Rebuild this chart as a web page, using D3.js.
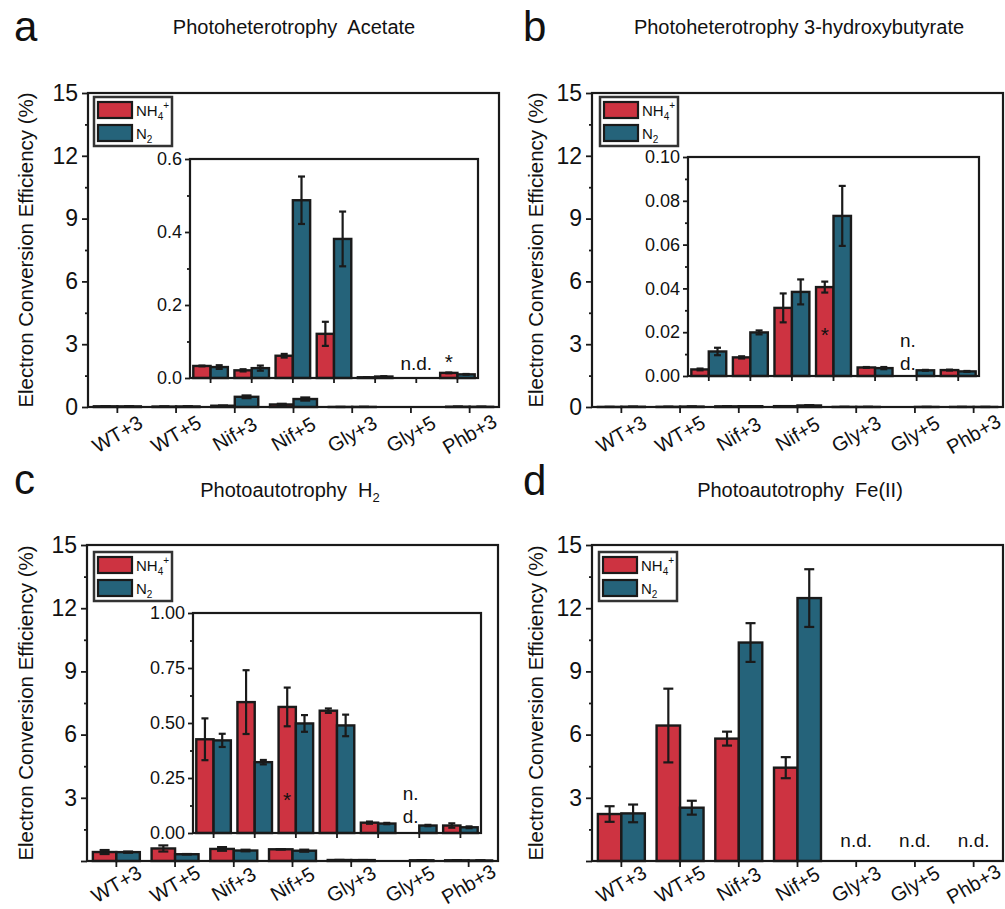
<!DOCTYPE html>
<html>
<head>
<meta charset="utf-8">
<script src="https://cdn.jsdelivr.net/npm/d3@7"></script>
<style>
  body { margin: 0; background: #fff; }
  text { font-family: "Liberation Sans", Arial, sans-serif; fill: #111; }
</style>
</head>
<body>
<div id="fig"></div>
<script>
// categories and tick labels
var categories = ['WT+3', 'WT+5', 'Nif+3', 'Nif+5', 'Gly+3', 'Gly+5', 'Phb+3'];
var mainTicks = [0, 3, 6, 9, 12, 15];
var mainMinor = [1.5, 4.5, 7.5, 10.5, 13.5];
var insetTicksA = [0, 0.2, 0.4, 0.6];
var insetMinorA = [0.1, 0.3, 0.5];
var insetTicksB = [0, 0.02, 0.04, 0.06, 0.08, 0.10];
var insetMinorB = [0.01, 0.03, 0.05, 0.07, 0.09];
var insetTicksC = [0, 0.25, 0.5, 0.75, 1.0];
var insetMinorC = [0.125, 0.375, 0.625, 0.875];

// a: photoheterotrophy, acetate (null = n.d.)
var acetateNH4    = [0.033, 0.021, 0.061, 0.121, 0.002, null, 0.014];
var acetateNH4Err = [0.001, 0.003, 0.005, 0.033, 0.0005, null, 0.001];
var acetateN2     = [0.030, 0.027, 0.487, 0.381, 0.004, null, 0.010];
var acetateN2Err  = [0.005, 0.007, 0.065, 0.075, 0.001, null, 0.001];

// b: photoheterotrophy, 3-hydroxybutyrate
var hbNH4    = [0.0030, 0.0085, 0.0311, 0.0406, 0.0039, null, 0.0027];
var hbNH4Err = [0.0004, 0.0005, 0.0066, 0.0025, 0.0002, null, 0.0002];
var hbN2     = [0.0112, 0.0199, 0.0384, 0.0731, 0.0036, 0.0026, 0.0021];
var hbN2Err  = [0.0017, 0.0009, 0.0057, 0.0137, 0.0005, 0.0002, 0.0002];

// c: photoautotrophy, H2
var h2NH4    = [0.426, 0.595, 0.573, 0.556, 0.047, null, 0.034];
var h2NH4Err = [0.095, 0.145, 0.088, 0.010, 0.005, null, 0.010];
var h2N2     = [0.421, 0.322, 0.498, 0.489, 0.043, 0.034, 0.026];
var h2N2Err  = [0.030, 0.010, 0.038, 0.049, 0.003, 0.003, 0.004];

// d: photoautotrophy, Fe(II)
var feNH4    = [2.23, 6.43, 5.81, 4.43, null, null, null];
var feNH4Err = [0.37, 1.75, 0.33, 0.50, null, null, null];
var feN2     = [2.26, 2.53, 10.37, 12.48, null, null, null];
var feN2Err  = [0.42, 0.33, 0.92, 1.37, null, null, null];

var RED = '#cd3341', TEAL = '#25637a', INK = '#1a1a1a';

var svg = d3.select('#fig').append('svg')
            .attr('width', 1005)
            .attr('height', 909);

svg.append('rect').attr('width', 1005).attr('height', 909).attr('fill', '#fff');

// draws one grouped bar set with error bars
function drawBars(g, x, y, nh4, nh4Err, n2, n2Err, frac, capW) {
  var bw = x.step() * frac;
  var rows = [];
  categories.forEach(function(c, i) {
    rows.push({cat: c, v: nh4[i], e: nh4Err[i], col: RED, off: -bw});
    rows.push({cat: c, v: n2[i], e: n2Err[i], col: TEAL, off: 0});
  });
  rows = rows.filter(function(d) { return d.v != null; });
  var cx = function(d) { return x(d.cat) + x.bandwidth() / 2 + d.off; };

  g.selectAll(null).data(rows).enter().append('rect')
    .attr('x', cx)
    .attr('y', function(d) { return y(d.v); })
    .attr('width', bw)
    .attr('height', function(d) { return y(0) - y(d.v); })
    .attr('fill', function(d) { return d.col; })
    .attr('stroke', INK)
    .attr('stroke-width', 2.4);

  var eb = rows.filter(function(d) { return d.e; });
  var mid = function(d) { return cx(d) + bw / 2; };
  g.selectAll(null).data(eb).enter().append('line')
    .attr('x1', mid).attr('x2', mid)
    .attr('y1', function(d) { return y(Math.max(0, d.v - d.e)); })
    .attr('y2', function(d) { return y(d.v + d.e); })
    .attr('stroke', INK).attr('stroke-width', 2.2);
  [-1, 1].forEach(function(s) {
    g.selectAll(null).data(eb).enter().append('line')
      .attr('x1', function(d) { return mid(d) - capW / 2; })
      .attr('x2', function(d) { return mid(d) + capW / 2; })
      .attr('y1', function(d) { return y(Math.max(0, d.v + s * d.e)); })
      .attr('y2', function(d) { return y(Math.max(0, d.v + s * d.e)); })
      .attr('stroke', INK).attr('stroke-width', 2.2);
  });
}

function styleAxis(sel, fontSize) {
  sel.select('.domain').remove();
  sel.selectAll('line').attr('stroke', INK).attr('stroke-width', 1.8);
  sel.selectAll('text').attr('font-size', fontSize).attr('fill', '#111')
     .attr('font-family', '"Liberation Sans", Arial, sans-serif');
}

function drawPanel(p) {
  var x = d3.scaleBand().domain(categories).range([p.x0, p.x1]);
  var y = d3.scaleLinear().domain([0, 15]).range([p.y1, p.y0]);
  var g = svg.append('g');

  // panel letter and title
  svg.append('text').attr('x', p.letterX).attr('y', p.letterY)
     .attr('font-size', 42).text(p.letter);
  var t = svg.append('text').attr('x', p.titleX).attr('y', p.titleY)
     .attr('text-anchor', 'middle').attr('font-size', 20)
     .style('white-space', 'pre');
  t.append('tspan').text(p.title);
  if (p.titleSub) t.append('tspan').attr('font-size', 13).attr('dy', 5).text(p.titleSub);

  // y axis label
  svg.append('text')
     .attr('transform', 'translate(' + p.ylabX + ',' + ((p.y0 + p.y1) / 2) + ') rotate(-90)')
     .attr('text-anchor', 'middle').attr('dominant-baseline', 'central')
     .attr('font-size', 20.5)
     .text('Electron Conversion Efficiency (%)');

  drawBars(g, x, y, p.nh4, p.nh4Err, p.n2, p.n2Err, 0.4, 10);

  // axes
  var ya = svg.append('g').attr('transform', 'translate(' + p.x0 + ',0)')
     .call(d3.axisLeft(y).tickValues(mainTicks).tickSize(6).tickPadding(4)
       .tickFormat(function(d) { return (d === 0 && !p.showZero) ? '' : d; }));
  styleAxis(ya, 23);
  var ym = svg.append('g').attr('transform', 'translate(' + p.x0 + ',0)')
     .call(d3.axisLeft(y).tickValues(mainMinor).tickSize(3).tickFormat(''));
  styleAxis(ym, 0);
  var xa = svg.append('g').attr('transform', 'translate(0,' + p.y1 + ')')
     .call(d3.axisBottom(x).tickSize(6).tickFormat(''));
  styleAxis(xa, 0);

  svg.append('g').selectAll(null).data(categories).enter().append('text')
     .attr('transform', function(d) {
       return 'translate(' + (x(d) + x.bandwidth() / 2) + ',' + (p.y1 + p.xlabOff) + ') rotate(-30)';
     })
     .attr('text-anchor', 'middle').attr('dominant-baseline', 'central')
     .attr('font-size', 20)
     .text(function(d) { return d; });

  svg.append('rect').attr('x', p.x0).attr('y', p.y0)
     .attr('width', p.x1 - p.x0).attr('height', p.y1 - p.y0)
     .attr('fill', 'none').attr('stroke', INK).attr('stroke-width', 2.2);

  // main-panel n.d. labels
  (p.mainND || []).forEach(function(c) {
    svg.append('text').attr('x', x(c) + x.bandwidth() / 2).attr('y', p.y1 - 14)
       .attr('text-anchor', 'middle').attr('font-size', 19).text('n.d.');
  });

  if (p.inset) drawInset(p, p.inset);
  drawLegend(p.legend[0], p.legend[1]);
}

function drawInset(p, q) {
  var x = d3.scaleBand().domain(categories).range([q.x0, q.x1]);
  var y = d3.scaleLinear().domain([0, q.max]).range([q.y1, q.y0]);
  svg.append('rect').attr('x', q.x0).attr('y', q.y0)
     .attr('width', q.x1 - q.x0).attr('height', q.y1 - q.y0).attr('fill', '#fff');
  var g = svg.append('g');
  drawBars(g, x, y, p.nh4, p.nh4Err, p.n2, p.n2Err, 0.42, 7);

  var ya = svg.append('g').attr('transform', 'translate(' + q.x0 + ',0)')
     .call(d3.axisLeft(y).tickValues(q.ticks).tickSize(5).tickPadding(3).tickFormat(d3.format(q.fmt)));
  styleAxis(ya, 18);
  var ym = svg.append('g').attr('transform', 'translate(' + q.x0 + ',0)')
     .call(d3.axisLeft(y).tickValues(q.minor).tickSize(3).tickFormat(''));
  styleAxis(ym, 0);
  var xa = svg.append('g').attr('transform', 'translate(0,' + q.y1 + ')')
     .call(d3.axisBottom(x).tickSize(5).tickFormat(''));
  styleAxis(xa, 0);

  svg.append('rect').attr('x', q.x0).attr('y', q.y0)
     .attr('width', q.x1 - q.x0).attr('height', q.y1 - q.y0)
     .attr('fill', 'none').attr('stroke', INK).attr('stroke-width', 2.2);

  var bw = x.step() * 0.42;
  (q.notes || []).forEach(function(n) {
    var cx = x(n.cat) + x.bandwidth() / 2 + (n.bar === 'nh4' ? -bw / 2 : n.bar === 'n2' ? bw / 2 : 0);
    n.lines.forEach(function(s, i) {
      svg.append('text').attr('x', cx).attr('y', n.y + i * 23)
         .attr('text-anchor', 'middle')
         .attr('font-size', s === '*' ? 21 : 19)
         .text(s);
    });
  });
}

function drawLegend(lx, ly) {
  var g = svg.append('g').attr('transform', 'translate(' + lx + ',' + ly + ')');
  g.append('rect').attr('width', 78).attr('height', 49)
   .attr('fill', '#fff').attr('stroke', '#333').attr('stroke-width', 2.5);
  [[RED, 'NH', '4', '+'], [TEAL, 'N', '2', '']].forEach(function(it, i) {
    g.append('rect').attr('x', 4).attr('y', 5 + i * 23).attr('width', 34).attr('height', 16)
     .attr('fill', it[0]).attr('stroke', INK).attr('stroke-width', 2.2);
    var t = g.append('text').attr('x', 42).attr('y', 19 + i * 23).attr('font-size', 15);
    t.append('tspan').text(it[1]);
    t.append('tspan').attr('font-size', 10).attr('dy', 4).text(it[2]);
    if (it[3]) t.append('tspan').attr('font-size', 10).attr('dy', -11).text(it[3]);
  });
}

drawPanel({
  letter: 'a', letterX: 14, letterY: 41,
  title: 'Photoheterotrophy  Acetate', titleX: 294, titleY: 34,
  x0: 88, x1: 499, y0: 93, y1: 407, ylabX: 25, showZero: true, xlabOff: 27,
  legend: [94, 97],
  nh4: acetateNH4, nh4Err: acetateNH4Err, n2: acetateN2, n2Err: acetateN2Err,
  inset: {x0: 190, x1: 478, y0: 159, y1: 378, max: 0.6, ticks: insetTicksA, minor: insetMinorA, fmt: '.1f',
          notes: [{cat: 'Gly+5', bar: null, y: 370, lines: ['n.d.']},
                  {cat: 'Phb+3', bar: 'nh4', y: 369, lines: ['*']}]}
});

drawPanel({
  letter: 'b', letterX: 523, letterY: 41,
  title: 'Photoheterotrophy 3-hydroxybutyrate', titleX: 799, titleY: 34,
  x0: 592, x1: 1003, y0: 93, y1: 407, ylabX: 535, showZero: true, xlabOff: 27,
  legend: [600, 97],
  nh4: hbNH4, nh4Err: hbNH4Err, n2: hbN2, n2Err: hbN2Err,
  inset: {x0: 688, x1: 979, y0: 157, y1: 376, max: 0.1, ticks: insetTicksB, minor: insetMinorB, fmt: '.2f',
          notes: [{cat: 'Gly+5', bar: 'nh4', y: 347, lines: ['n.', 'd.']},
                  {cat: 'Nif+5', bar: 'nh4', y: 342, lines: ['*']}]}
});

drawPanel({
  letter: 'c', letterX: 14, letterY: 494,
  title: 'Photoautotrophy  H', titleSub: '2', titleX: 290, titleY: 497,
  x0: 87, x1: 498, y0: 545, y1: 861, ylabX: 25, showZero: false, xlabOff: 23,
  legend: [94, 552],
  nh4: h2NH4, nh4Err: h2NH4Err, n2: h2N2, n2Err: h2N2Err,
  inset: {x0: 193, x1: 481, y0: 613, y1: 833, max: 1.0, ticks: insetTicksC, minor: insetMinorC, fmt: '.2f',
          notes: [{cat: 'Gly+5', bar: 'nh4', y: 800, lines: ['n.', 'd.']},
                  {cat: 'Nif+3', bar: 'nh4', y: 807, lines: ['*']}]}
});

drawPanel({
  letter: 'd', letterX: 523, letterY: 495,
  title: 'Photoautotrophy  Fe(II)', titleX: 800, titleY: 497,
  x0: 592, x1: 1003, y0: 545, y1: 861, ylabX: 535, showZero: false, xlabOff: 23,
  legend: [599, 552],
  nh4: feNH4, nh4Err: feNH4Err, n2: feN2, n2Err: feN2Err,
  mainND: ['Gly+3', 'Gly+5', 'Phb+3']
});
</script>
</body>
</html>
